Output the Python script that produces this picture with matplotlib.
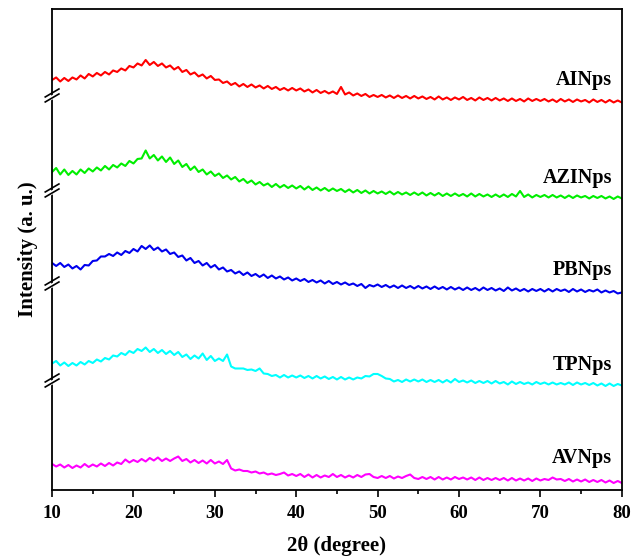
import numpy as np
import matplotlib
matplotlib.use("Agg")
import matplotlib.pyplot as plt
from matplotlib.ticker import MultipleLocator

# 2theta grid, 0.5 degree steps
two_theta = np.arange(10, 80.01, 0.5)

# intensities (a.u., each relative to its own offset)
ai_nps = [
    30, 32.5, 28.5, 32, 29, 32.5, 30.5, 34.5, 31.5, 36, 33.5, 37, 34.5, 38, 35.5, 39.5, 38, 41.5, 39.5, 44,
    42.5, 46.5, 44.5, 50, 45, 48, 44, 46.5, 42.5, 44.5, 40.5, 43, 38, 40, 35.5, 37.5, 33.5, 35.5, 31.5, 34,
    30, 30.5, 27, 28.5, 25, 27, 23.5, 26, 23, 25.5, 22.5, 24.5, 21.5, 24, 21, 23, 20, 22, 19.5, 22,
    19.5, 21.5, 18.5, 20.5, 17.5, 20, 17, 19, 16.5, 18.5, 16, 23, 15.5, 17.5, 14.5, 16.5, 14, 16, 13, 15,
    13, 15, 12.5, 14.5, 12, 14.5, 12, 14, 11.5, 14, 11.5, 13.5, 11, 13, 10.5, 13.5, 10.5, 12.5, 10, 12.5,
    10.5, 13, 10, 12, 9.5, 12.5, 10, 12, 9.5, 12, 9.5, 11.5, 9, 11.5, 9, 11, 8.5, 11.5, 9, 11,
    9, 11, 8.5, 10.5, 8, 11, 8.5, 10.5, 8, 10.5, 8.5, 10, 7.5, 10.5, 8, 10, 7.5, 10, 7.5, 9.5,
    7.5]
azi_nps = [
    28, 32, 25.5, 30.5, 25, 29, 25.5, 30.5, 27, 31.5, 28.5, 32.5, 29.5, 34, 30.5, 35, 32.5, 36.5, 34, 39,
    36.5, 41, 41.5, 49.5, 41.5, 45, 39.5, 43.5, 38, 42.5, 36, 39.5, 33, 36, 30, 33.5, 28, 30.5, 25.5, 28.5,
    24, 26.5, 22, 24.5, 20.5, 23, 18.5, 21, 17, 19.5, 15.5, 18, 14.5, 16.5, 13, 16, 12.5, 15, 12, 14.5,
    11.5, 14, 10.5, 13.5, 10, 12.5, 9.5, 12, 9, 11.5, 9, 11, 8, 10.5, 7.5, 10, 7, 9.5, 6.5, 9,
    6.5, 8.5, 6, 8.5, 5.5, 8, 5.5, 7.5, 5, 7.5, 5, 7.5, 4.5, 7, 4.5, 7, 4, 6.5, 4, 6.5,
    4, 6, 3.5, 6.5, 3.5, 6, 3.5, 5.5, 3, 5.5, 3, 5.5, 3, 6, 3.5, 9, 3, 5.5, 2.5, 5,
    3, 5, 2.5, 5, 2.5, 4.5, 2, 4.5, 2, 4.5, 2.5, 4, 1.5, 4, 2, 4, 1.5, 3.5, 1, 3.5,
    1.5]
pb_nps = [
    37, 34, 37, 33, 35.5, 31.5, 34, 30.5, 35, 34.5, 39, 39.5, 43.5, 43.5, 46, 44, 47.5, 45, 49, 47,
    51, 48.5, 54, 51, 54.5, 50, 52.5, 48.5, 50.5, 46, 47.5, 43, 44.5, 39.5, 42, 37, 39, 34.5, 37, 32.5,
    35, 30.5, 32.5, 28.5, 30, 26.5, 28.5, 25, 27.5, 24, 26, 23, 25.5, 22, 24.5, 21.5, 23.5, 20.5, 22.5, 19.5,
    21.5, 19, 21, 18, 20, 17.5, 19.5, 16.5, 19, 16, 18, 15.5, 17.5, 15, 16.5, 14, 16, 12, 15, 13.5,
    15.5, 13, 15, 12.5, 14.5, 12, 14.5, 12, 14, 11.5, 14, 11.5, 13.5, 11, 13.5, 11, 13, 10.5, 13, 10.5,
    12.5, 10, 12.5, 10, 12, 9.5, 12.5, 10, 12, 9.5, 11.5, 9, 12.5, 9.5, 11.5, 9, 11, 8.5, 11, 9,
    11, 8.5, 11, 8.5, 11, 9, 10.5, 8, 11, 8.5, 10.5, 8, 10, 8.5, 10.5, 7.5, 9.5, 7.5, 9, 6.5,
    7.5]
tp_nps = [
    26.5, 29, 24.5, 27.5, 24, 27, 24.5, 28, 25.5, 29, 27, 30.5, 28.5, 32, 30.5, 34.5, 33.5, 37, 35, 39,
    37, 41, 39, 42.5, 38, 41, 37, 40, 36, 39, 35, 38, 33, 35.5, 31, 34.5, 31.5, 36.5, 30, 34,
    29, 31.5, 29, 35.5, 23.5, 21.5, 21.5, 21.5, 20, 20.5, 19, 21.5, 16.5, 16, 14, 15, 12.5, 15, 12.5, 14.5,
    12.5, 14.5, 12, 14, 11.5, 14, 11.5, 13.5, 11, 13, 10.5, 13, 10.5, 12.5, 10.5, 12.5, 11.5, 14, 13.5, 16,
    16, 14, 11.5, 11, 8.5, 10, 8, 10.5, 8.5, 10.5, 8.5, 10.5, 8, 10, 8, 10, 7.5, 10, 7.5, 11,
    8, 9.5, 7.5, 9.5, 7, 9, 7, 9, 6.5, 9, 6.5, 8, 5.5, 8.5, 6, 8, 6, 7.5, 5.5, 8,
    6, 7.5, 5.5, 7.5, 5.5, 7, 5.5, 7.5, 5, 7.5, 5.5, 7, 5, 7, 4.5, 6.5, 4, 6.5, 4, 6,
    4.5]
av_nps = [
    26, 23.5, 25.5, 22.5, 25, 22, 24.5, 22.5, 26, 23, 25.5, 23.5, 26.5, 24, 27, 24.5, 27.5, 26, 30.5, 27.5,
    30, 28, 31, 28.5, 32, 29.5, 32.5, 29, 31.5, 29, 31.5, 33.5, 29, 31, 27.5, 30, 27, 29.5, 26.5, 30,
    26.5, 28.5, 26, 30, 21.5, 19.5, 20.5, 19, 19, 17.5, 18.5, 16.5, 17.5, 15.5, 16.5, 15, 16, 17.5, 14.5, 16,
    14, 16, 13, 15.5, 12.5, 15, 12.5, 14.5, 13, 16, 13, 15, 12.5, 14.5, 12.5, 15, 13, 15.5, 16, 13,
    12, 14, 12, 14, 11.5, 13.5, 12, 14, 15.5, 12, 11, 13, 11, 13, 10.5, 13, 10.5, 12.5, 10.5, 13,
    11, 12.5, 10.5, 12.5, 10, 12.5, 10, 12, 10, 12, 10, 12, 9.5, 12, 9.5, 11.5, 9.5, 11.5, 9, 11.5,
    9.5, 11, 10, 12.5, 10.5, 11, 9, 11, 8.5, 10.5, 8.5, 10.5, 8, 10, 8, 10, 7.5, 9.5, 7, 9,
    7]

names = ["AINps", "AZINps", "PBNps", "TPNps", "AVNps"]
series = [ai_nps, azi_nps, pb_nps, tp_nps, av_nps]
offsets = [380, 290, 190, 100, 0]
colors = ["#ff0000", "#00ee00", "#0000ee", "#00ffff", "#ff00ff"]
label_y = [410, 312, 220, 125, 32]
break_at = [395, 300, 207, 110]

for s in series:
    assert len(s) == len(two_theta), len(s)

plt.rcParams["font.family"] = ["Liberation Serif", "DejaVu Serif"]
plt.rcParams["font.weight"] = "bold"

fig = plt.figure(figsize=(6.43, 5.60), dpi=100)
ax = fig.add_axes([0.081, 0.125, 0.886, 0.859])

for name, vals, off, c, ly in zip(names, series, offsets, colors, label_y):
    ax.plot(two_theta, np.array(vals) + off, color=c, lw=1.5)
    ax.text(78.8, ly, name, ha="right", va="center", fontsize=14.5, fontweight="bold")

ax.set_xlim(10, 80)
ax.set_ylim(0, 481)
ax.xaxis.set_major_locator(MultipleLocator(10))
ax.xaxis.set_minor_locator(MultipleLocator(5))
ax.set_yticks([])
ax.tick_params(axis="x", which="major", direction="out", length=5, width=1.2,
               labelsize=13.5, pad=6)
ax.tick_params(axis="x", which="minor", direction="out", length=3, width=1.2)
for sp in ax.spines.values():
    sp.set_linewidth(1.3)

# axis break marks on the left spine
tr = ax.get_yaxis_transform()
for yb in break_at:
    ax.plot([-0.013, 0.013], [yb - 6, yb + 1], transform=tr, color="white", lw=3, clip_on=False, zorder=5)
    for dy in (-3, 2):
        ax.plot([-0.012, 0.012], [yb + dy - 4, yb + dy + 4], transform=tr, color="black",
                lw=1.2, clip_on=False, zorder=6)

ax.set_xlabel("2θ (degree)", fontsize=15, fontweight="bold", labelpad=10)
ax.set_ylabel("Intensity (a. u.)", fontsize=15, fontweight="bold", labelpad=10)

fig.savefig("out.png", dpi=100)
